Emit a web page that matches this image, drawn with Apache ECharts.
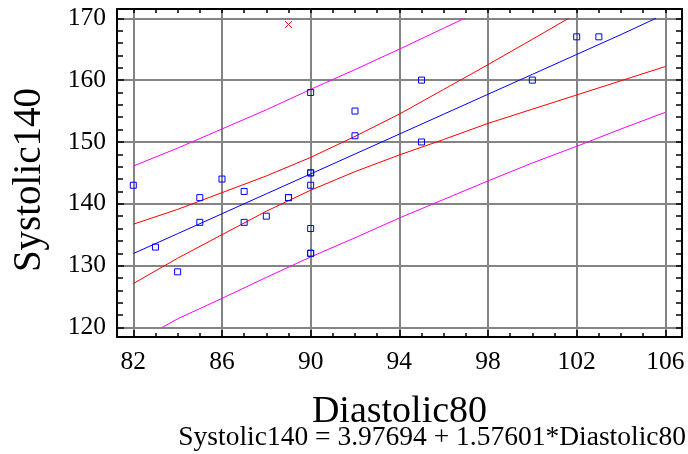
<!DOCTYPE html>
<html>
<head>
<meta charset="utf-8">
<script src="https://cdn.jsdelivr.net/npm/echarts@6/dist/echarts.min.js"></script>
<style>
html,body{margin:0;padding:0;background:#fff;}
#chart{width:688px;height:454px;}
</style>
</head>
<body>
<div id="chart"></div>
<script>
// ---- data ----
const ptX = [82, 83, 84, 85, 85, 86, 87, 87, 88, 89, 89, 90, 90, 90, 90, 90, 90, 90, 92, 92, 95, 95, 100, 102, 103];
const ptY = [143, 133, 129, 141, 137, 144, 142, 137, 138, 141, 141, 158, 145, 145, 143, 136, 132, 132, 155, 151, 160, 150, 160, 167, 167];
const exX = [89];
const exY = [169];

const fitX = [82, 84, 86, 88, 90, 92, 94, 96, 98, 100, 102, 104, 105.58];
const fitY = [131.95, 135.17, 138.39, 141.61, 144.83, 148.05, 151.27, 154.49, 157.71, 160.93, 164.15, 167.37, 170];

const confUpX = [82, 84, 86, 88, 90, 92, 94, 96, 98, 100, 101.64];
const confUpY = [136.7, 139.1, 141.8, 144.5, 147.5, 150.9, 154.5, 158.5, 162.5, 166.6, 170];
const confLoX = [82, 84, 86, 88, 90, 92, 94, 96, 98, 100, 102, 104, 106];
const confLoY = [127.1, 131.2, 135.0, 138.8, 142.2, 145.2, 147.9, 150.4, 153.0, 155.3, 157.6, 159.9, 162.2];

const predUpX = [82, 84, 86, 88, 90, 92, 94, 96, 96.95];
const predUpY = [146.1, 149.0, 152.1, 155.2, 158.5, 161.7, 165.0, 168.4, 170];
const predLoX = [83.3, 84, 86, 88, 90, 92, 94, 96, 98, 100, 102, 104, 106];
const predLoY = [120, 121.4, 124.7, 128.1, 131.4, 134.5, 137.7, 140.7, 143.7, 146.6, 149.3, 152.1, 154.8];

const xTickLabels = [82, 86, 90, 94, 98, 102, 106];
const xMinorTicks = [82,83,84,85,86,87,88,89,90,91,92,93,94,95,96,97,98,99,100,101,102,103,104,105,106];
const yTickLabels = [120, 130, 140, 150, 160, 170];
const yMinorTicks = [120,122,124,126,128,130,132,134,136,138,140,142,144,146,148,150,152,154,156,158,160,162,164,166,168,170];

const xTitle = 'Diastolic80';
const yTitle = 'Systolic140';
const equation = 'Systolic140 = 3.97694 + 1.57601*Diastolic80';

// ---- chart ----
const zip = (xs, ys) => xs.map((x, i) => [x, ys[i]]);
const FONT = '"Liberation Serif", "DejaVu Serif", serif';
const X_MIN = 81.265, X_MAX = 106.75, Y_MIN = 118.46, Y_MAX = 171.5;
const gridPos = {left: 117, top: 9, width: 565, height: 328, containLabel: false};
const frameLine = {show: true, lineStyle: {color: '#000', width: 2}};
const gridLine = {show: true, lineStyle: {color: '#848484', width: 2, type: 'solid'}};

const chart = echarts.init(document.getElementById('chart'), null, {renderer: 'canvas'});
chart.setOption({
  animation: false,
  backgroundColor: '#fff',
  title: {
    text: equation, right: 2, bottom: 2, padding: 0,
    textStyle: {fontFamily: FONT, fontSize: 27.5, fontWeight: 'normal', color: '#000'}
  },
  grid: [Object.assign({}, gridPos), Object.assign({}, gridPos)],
  xAxis: [
    {
      gridIndex: 0, type: 'value', position: 'bottom', min: X_MIN, max: X_MAX,
      axisLine: frameLine,
      axisTick: {show: true, inside: true, length: 7, customValues: xTickLabels, lineStyle: {color: '#000', width: 1.5}},
      axisLabel: {show: true, customValues: xTickLabels, margin: 12, fontFamily: FONT, fontSize: 25.5, color: '#000'},
      splitLine: gridLine,
      name: xTitle, nameLocation: 'middle', nameGap: 56,
      nameTextStyle: {fontFamily: FONT, fontSize: 38, color: '#000'}
    },
    {
      gridIndex: 0, type: 'value', position: 'top', min: X_MIN, max: X_MAX,
      axisLine: frameLine,
      axisTick: {show: true, inside: true, length: 4, customValues: xMinorTicks, lineStyle: {color: '#000', width: 1.5}},
      axisLabel: {show: false}, splitLine: {show: false}
    },
    {
      gridIndex: 1, type: 'value', position: 'bottom', min: X_MIN, max: X_MAX,
      axisLine: {show: false},
      axisTick: {show: true, inside: true, length: 4, customValues: xMinorTicks, lineStyle: {color: '#000', width: 1.5}},
      axisLabel: {show: false}, splitLine: {show: false}
    }
  ],
  yAxis: [
    {
      gridIndex: 0, type: 'value', position: 'left', min: Y_MIN, max: Y_MAX,
      axisLine: frameLine,
      axisTick: {show: true, inside: true, length: 7, customValues: yTickLabels, lineStyle: {color: '#000', width: 1.5}},
      axisLabel: {show: true, customValues: yTickLabels, margin: 11, fontFamily: FONT, fontSize: 25.5, color: '#000'},
      splitLine: gridLine,
      name: yTitle, nameLocation: 'middle', nameGap: 68, nameRotate: 90,
      nameTextStyle: {fontFamily: FONT, fontSize: 39, color: '#000', padding: [0, 14, 0, 0]}
    },
    {
      gridIndex: 0, type: 'value', position: 'right', min: Y_MIN, max: Y_MAX,
      axisLine: frameLine,
      axisTick: {show: true, inside: true, length: 6, customValues: yMinorTicks, lineStyle: {color: '#000', width: 1.5}},
      axisLabel: {show: false}, splitLine: {show: false}
    },
    {
      gridIndex: 1, type: 'value', position: 'left', min: Y_MIN, max: Y_MAX,
      axisLine: {show: false},
      axisTick: {show: true, inside: true, length: 6, customValues: yMinorTicks, lineStyle: {color: '#000', width: 1.5}},
      axisLabel: {show: false}, splitLine: {show: false}
    }
  ],
  series: [
    {type: 'line', name: 'predUp', data: zip(predUpX, predUpY), showSymbol: false, symbol: 'none', lineStyle: {color: '#ff00ff', width: 1}, z: 3},
    {type: 'line', name: 'predLo', data: zip(predLoX, predLoY), showSymbol: false, symbol: 'none', lineStyle: {color: '#ff00ff', width: 1}, z: 3},
    {type: 'line', name: 'confUp', data: zip(confUpX, confUpY), showSymbol: false, symbol: 'none', lineStyle: {color: '#ff0000', width: 1}, z: 3},
    {type: 'line', name: 'confLo', data: zip(confLoX, confLoY), showSymbol: false, symbol: 'none', lineStyle: {color: '#ff0000', width: 1}, z: 3},
    {type: 'line', name: 'fit', data: zip(fitX, fitY), showSymbol: false, symbol: 'none', lineStyle: {color: '#0000ff', width: 1}, z: 3},
    {type: 'scatter', name: 'points', data: zip(ptX, ptY), symbol: 'rect', symbolSize: 6,
      itemStyle: {color: 'rgba(0,0,0,0)', borderColor: '#0000ff', borderWidth: 1, opacity: 1}, z: 4},
    {type: 'scatter', name: 'excluded', data: zip(exX, exY), symbol: 'path://M0,0L10,10M10,0L0,10', symbolSize: 7,
      itemStyle: {color: 'rgba(0,0,0,0)', borderColor: '#ff0000', borderWidth: 1, opacity: 1}, z: 4}
  ]
});
</script>
</body>
</html>
